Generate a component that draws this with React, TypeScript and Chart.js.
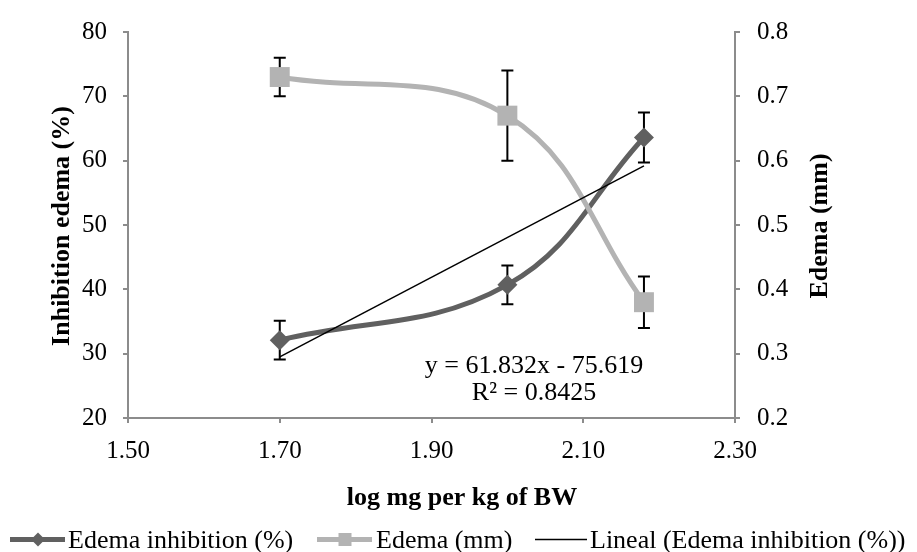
import React, { useEffect, useRef } from "react";
import { Chart, registerables } from "chart.js";
Chart.register(...registerables);

// ---- data ----
const doseLog = [1.7, 2.0, 2.18];
const inhibitionPct = [32.1, 40.7, 63.6];
const inhibitionErr = [3.0, 3.0, 3.9];
const edemaMm = [0.73, 0.67, 0.38];
const edemaErr = [0.03, 0.07, 0.04];
const trendX = [1.7, 2.18];
const trendY = [29.5, 59.2];
const xTicks = [1.5, 1.7, 1.9, 2.1, 2.3];
const yLeftTicks = [20, 30, 40, 50, 60, 70, 80];
const yRightTicks = [0.2, 0.3, 0.4, 0.5, 0.6, 0.7, 0.8];
const legendLabels = ["Edema inhibition (%)", "Edema (mm)", "Lineal (Edema inhibition (%))"];
const equationLines = ["y = 61.832x - 75.619", "R² = 0.8425"];
const xTitle = "log mg per kg of BW";
const yLeftTitle = "Inhibition edema (%)";
const yRightTitle = "Edema (mm)";

const DARK = "#606060";
const LIGHT = "#b3b3b3";
const AXIS = "#8c8c8c";
const FONT = '"Liberation Serif", "Times New Roman", serif';

export default function App() {
  const ref = useRef<HTMLCanvasElement | null>(null);

  useEffect(() => {
    if (!ref.current) return;

    const errorBars = {
      id: "errorBars",
      beforeDatasetsDraw(chart: any) {
        const ctx = chart.ctx;
        const xs = chart.scales.x;
        const sets = [
          { vals: inhibitionPct, errs: inhibitionErr, scale: chart.scales.y },
          { vals: edemaMm, errs: edemaErr, scale: chart.scales.y2 },
        ];
        ctx.save();
        ctx.strokeStyle = "#000";
        ctx.lineWidth = 2;
        sets.forEach((s) => {
          doseLog.forEach((xv, i) => {
            const px = xs.getPixelForValue(xv);
            const top = s.scale.getPixelForValue(s.vals[i] + s.errs[i]);
            const bot = s.scale.getPixelForValue(s.vals[i] - s.errs[i]);
            ctx.beginPath();
            ctx.moveTo(px, top);
            ctx.lineTo(px, bot);
            ctx.moveTo(px - 6, top);
            ctx.lineTo(px + 6, top);
            ctx.moveTo(px - 6, bot);
            ctx.lineTo(px + 6, bot);
            ctx.stroke();
          });
        });
        ctx.restore();
      },
    };

    const decorations = {
      id: "decorations",
      afterDraw(chart: any) {
        const ctx = chart.ctx;
        ctx.save();
        ctx.fillStyle = "#000";
        // axis titles
        ctx.font = `bold 26px ${FONT}`;
        ctx.textAlign = "center";
        ctx.textBaseline = "alphabetic";
        ctx.fillText(xTitle, 462, 505);
        ctx.save();
        ctx.translate(69, 226);
        ctx.rotate(-Math.PI / 2);
        ctx.fillText(yLeftTitle, 0, 0);
        ctx.restore();
        ctx.save();
        ctx.translate(827, 226);
        ctx.rotate(-Math.PI / 2);
        ctx.fillText(yRightTitle, 0, 0);
        ctx.restore();

        // trendline equation
        ctx.font = `26px ${FONT}`;
        ctx.fillText(equationLines[0], 534, 373);
        ctx.fillText(equationLines[1], 534, 400);

        // legend
        const ly = 539.5;
        const line = (x1: number, x2: number, color: string, w: number) => {
          ctx.strokeStyle = color;
          ctx.lineWidth = w;
          ctx.beginPath();
          ctx.moveTo(x1, ly);
          ctx.lineTo(x2, ly);
          ctx.stroke();
        };
        line(10, 65, DARK, 5);
        ctx.fillStyle = DARK;
        ctx.beginPath();
        ctx.moveTo(38 - 7, ly);
        ctx.lineTo(38, ly - 7);
        ctx.lineTo(38 + 7, ly);
        ctx.lineTo(38, ly + 7);
        ctx.closePath();
        ctx.fill();
        line(317, 372, LIGHT, 5);
        ctx.fillStyle = LIGHT;
        ctx.fillRect(345 - 6.5, ly - 6.5, 13, 13);
        line(535, 587, "#000", 1.5);

        ctx.fillStyle = "#000";
        ctx.textAlign = "left";
        ctx.fillText(legendLabels[0], 68, 548);
        ctx.fillText(legendLabels[1], 376, 548);
        ctx.fillText(legendLabels[2], 590, 548);
        ctx.restore();
      },
    };

    const tickFont = { family: FONT, size: 25 };

    const chart = new Chart(ref.current, {
      type: "line",
      data: {
        datasets: [
          {
            label: legendLabels[2],
            data: trendX.map((x, i) => ({ x, y: trendY[i] })),
            yAxisID: "y",
            borderColor: "#000",
            borderWidth: 1.5,
            pointRadius: 0,
            tension: 0,
            order: 0,
          },
          {
            label: legendLabels[1],
            data: doseLog.map((x, i) => ({ x, y: edemaMm[i] })),
            yAxisID: "y2",
            borderColor: LIGHT,
            backgroundColor: LIGHT,
            borderWidth: 5,
            tension: 0.4,
            pointStyle: "rect",
            pointRadius: 14.1,
            pointBorderWidth: 0,
            order: 1,
          },
          {
            label: legendLabels[0],
            data: doseLog.map((x, i) => ({ x, y: inhibitionPct[i] })),
            yAxisID: "y",
            borderColor: DARK,
            backgroundColor: DARK,
            borderWidth: 5,
            tension: 0.4,
            pointStyle: "rectRot",
            pointRadius: 10,
            pointBorderWidth: 0,
            order: 2,
          },
        ],
      },
      options: {
        responsive: false,
        animation: false,
        layout: { padding: { top: 29, left: 0, right: 0, bottom: 0 } },
        plugins: {
          legend: { display: false },
          tooltip: { enabled: false },
          title: { display: false },
        },
        scales: {
          x: {
            type: "linear",
            position: "bottom",
            min: 1.5,
            max: 2.3,
            afterBuildTicks: (s: any) => {
              s.ticks = xTicks.map((v) => ({ value: v }));
            },
            afterFit: (s: any) => {
              s.height = 134;
            },
            ticks: {
              callback: (v: any) => Number(v).toFixed(2),
              font: tickFont,
              color: "#000",
              padding: 13,
              maxRotation: 0,
              autoSkip: false,
            },
            grid: { drawOnChartArea: false, tickLength: 5, color: AXIS, lineWidth: 2 },
            border: { color: AXIS, width: 2 },
          },
          y: {
            type: "linear",
            position: "left",
            min: 20,
            max: 80,
            afterBuildTicks: (s: any) => {
              s.ticks = yLeftTicks.map((v) => ({ value: v }));
            },
            afterFit: (s: any) => {
              s.width = 128;
            },
            ticks: { font: tickFont, color: "#000", padding: 16, autoSkip: false },
            grid: { drawOnChartArea: false, tickLength: 5, color: AXIS, lineWidth: 2 },
            border: { color: AXIS, width: 2 },
          },
          y2: {
            type: "linear",
            position: "right",
            min: 0.2,
            max: 0.8,
            afterBuildTicks: (s: any) => {
              s.ticks = yRightTicks.map((v) => ({ value: v }));
            },
            afterFit: (s: any) => {
              s.width = 182;
            },
            ticks: {
              callback: (v: any) => Number(v).toFixed(1),
              font: tickFont,
              color: "#000",
              padding: 17,
              autoSkip: false,
            },
            grid: { drawOnChartArea: false, tickLength: 5, color: AXIS, lineWidth: 2 },
            border: { color: AXIS, width: 2 },
          },
        },
      },
      plugins: [errorBars, decorations],
    } as any);

    return () => chart.destroy();
  }, []);

  return (
    <div style={{ position: "fixed", left: 0, top: 0, width: 917, height: 552, background: "#fff" }}>
      <canvas ref={ref} width={917} height={552} style={{ width: 917, height: 552, display: "block" }} />
    </div>
  );
}
